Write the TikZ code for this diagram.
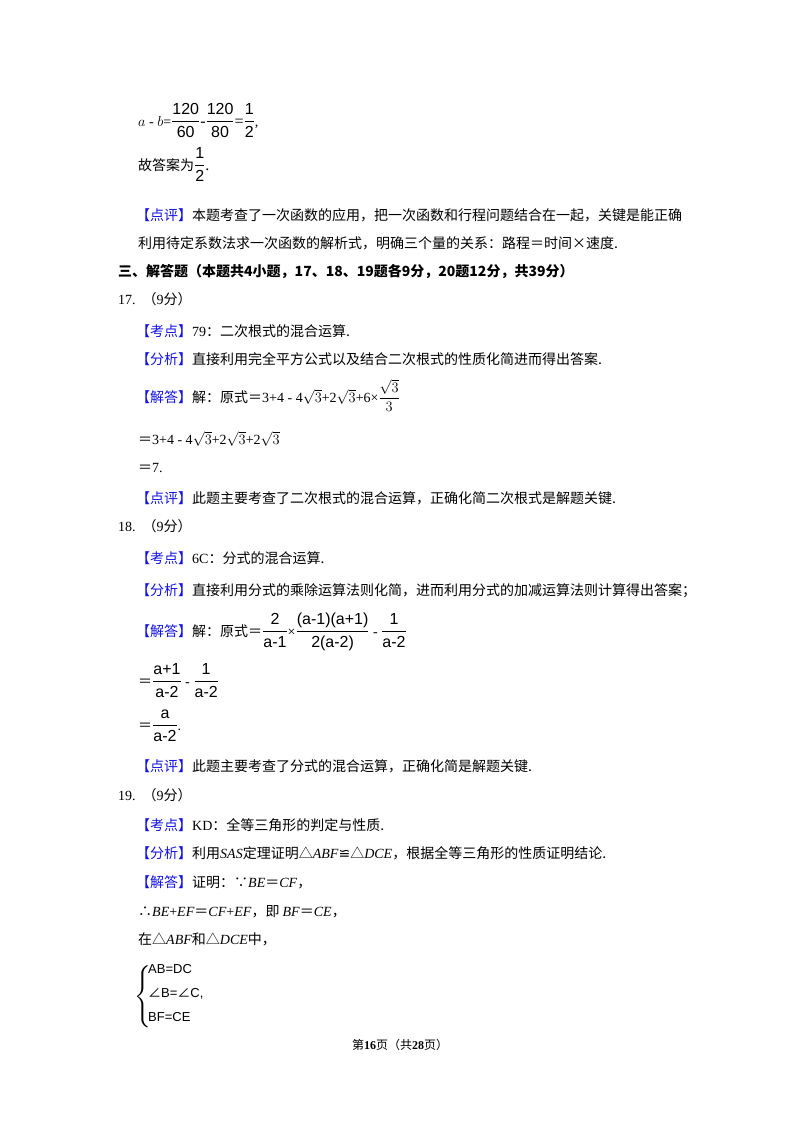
\documentclass[tikz,border=0pt]{standalone}
\usepackage{amsmath}
\usepackage{fontspec}
\setmainfont{Liberation Serif}
\newfontfamily\cjk{Noto Sans CJK SC}
\newfontfamily\djfont{DejaVu Sans}
\newfontfamily\sansf{Liberation Sans}
\definecolor{lblue}{RGB}{20,20,230}
\newcommand{\lab}[1]{{\color{lblue}\cjk 【#1】}}
\newcommand{\fr}[2]{\dfrac{\text{\sansf #1}}{\text{\sansf #2}}}
\begin{document}
\begin{tikzpicture}[x=1pt,y=-1pt,
  t/.style={anchor=base west,inner sep=0pt,font=\fontsize{14}{16}\selectfont}]
\fill[white] (0,0) rectangle (800,1132);
\useasboundingbox (0,0) rectangle (800,1132);
\node[t] (l1) at (138,126) {$a$ - $b$={\fontsize{16}{18}\selectfont$\fr{120}{60}$-$\fr{120}{80}$=$\fr{1}{2}$},};
\node[t] (l2) at (138,170) {\cjk 故答案为{\rmfamily\fontsize{16}{18}\selectfont$\fr{1}{2}$.}};
\node[t] (l3) at (136,220) {\lab{点评}\cjk 本题考查了一次函数的应用，把一次函数和行程问题结合在一起，关键是能正确};
\node[t] (l4) at (138,248) {\cjk 利用待定系数法求一次函数的解析式，明确三个量的关系：路程＝时间×速度.};
\node[t] (l5) at (118,276) {\cjk\bfseries 三、解答题（本题共4小题，17、18、19题各9分，20题12分，共39分）};
\node[t] (l6) at (118,304) {17.\ \ {\cjk （}9{\cjk 分）}};
\node[t] (l7) at (136,336) {\lab{考点}79{\cjk ：二次根式的混合运算.}};
\node[t] (l8) at (136,364) {\lab{分析}\cjk 直接利用完全平方公式以及结合二次根式的性质化简进而得出答案.};
\node[t] (l9) at (136,402) {\lab{解答}{\cjk 解：原式＝}3+4 - 4$\sqrt{3}$+2$\sqrt{3}$+6×$\dfrac{\sqrt{3}}{3}$};
\node[t] (l10) at (138,444) {{\cjk ＝}3+4 - 4$\sqrt{3}$+2$\sqrt{3}$+2$\sqrt{3}$};
\node[t] (l11) at (138,472) {{\cjk ＝}7.};
\node[t] (l12) at (136,503) {\lab{点评}\cjk 此题主要考查了二次根式的混合运算，正确化简二次根式是解题关键.};
\node[t] (l13) at (118,531) {18.\ \ {\cjk （}9{\cjk 分）}};
\node[t] (l14) at (136,563) {\lab{考点}6C{\cjk ：分式的混合运算.}};
\node[t] (l15) at (136,595) {\lab{分析}\cjk 直接利用分式的乘除运算法则化简，进而利用分式的加减运算法则计算得出答案；};
\node[t] (l16) at (136,636) {\lab{解答}{\cjk 解：原式＝}{\fontsize{16}{18}\selectfont$\fr{2}{a-1}$}×{\fontsize{16}{18}\selectfont$\fr{(a-1)(a+1)}{2(a-2)}$} - {\fontsize{16}{18}\selectfont$\fr{1}{a-2}$}};
\node[t] (l17) at (138,686) {{\cjk ＝}{\fontsize{16}{18}\selectfont$\fr{a+1}{a-2}$} - {\fontsize{16}{18}\selectfont$\fr{1}{a-2}$}};
\node[t] (l18) at (138,730) {{\cjk ＝}{\fontsize{16}{18}\selectfont$\fr{a}{a-2}$}.};
\node[t] (l19) at (136,771) {\lab{点评}\cjk 此题主要考查了分式的混合运算，正确化简是解题关键.};
\node[t] (l20) at (118,800) {19.\ \ {\cjk （}9{\cjk 分）}};
\node[t] (l21) at (136,830) {\lab{考点}KD{\cjk ：全等三角形的判定与性质.}};
\node[t] (l22) at (136,858) {\lab{分析}{\cjk 利用}\textit{SAS}{\cjk 定理证明△}\textit{ABF}{\djfont ≌}{\cjk △}\textit{DCE}{\cjk ，根据全等三角形的性质证明结论.}};
\node[t] (l23) at (136,887) {\lab{解答}{\cjk 证明：∵}\textit{BE}{\cjk ＝}\textit{CF}{\cjk ，}};
\node[t] (l24) at (138,916) {{\cjk ∴}\textit{BE}+\textit{EF}{\cjk ＝}\textit{CF}+\textit{EF}{\cjk ，即 }\textit{BF}{\cjk ＝}\textit{CE}{\cjk ，}};
\node[t] (l25) at (138,944) {{\cjk 在△}\textit{ABF}{\cjk 和△}\textit{DCE}{\cjk 中，}};
\node[t,font=\fontsize{20}{20}\selectfont] (br) at (134,1002) {$\left\{\vphantom{\rule{0pt}{36pt}}\right.$};
\node[t,font=\sansf\fontsize{13}{15}\selectfont] (s1) at (148,973) {AB=DC};
\node[t,font=\sansf\fontsize{13}{15}\selectfont] (s2) at (148,997) {{\cjk ∠}B={\cjk ∠}C,};
\node[t,font=\sansf\fontsize{13}{15}\selectfont] (s3) at (148,1021) {BF=CE};
\node[anchor=base,inner sep=0pt,font=\fontsize{12}{14}\selectfont] (ft) at (400,1049) {{\cjk 第}\textbf{16}{\cjk 页（共}\textbf{28}{\cjk 页）}};
\end{tikzpicture}
\end{document}
